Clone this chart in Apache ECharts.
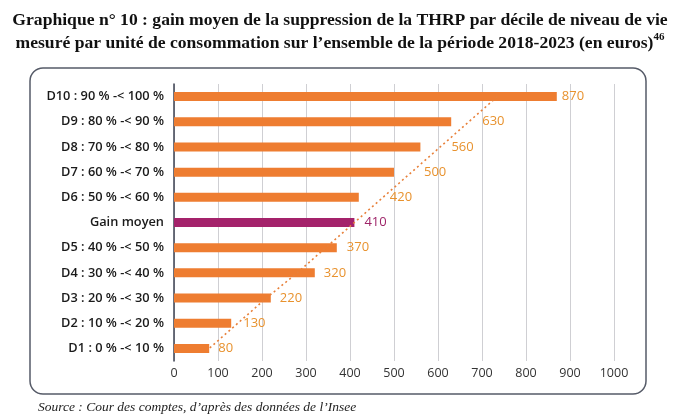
<!DOCTYPE html>
<html>
<head>
<meta charset="utf-8">
<script src="https://cdn.jsdelivr.net/npm/echarts@6/dist/echarts.min.js"></script>
<style>
html,body{margin:0;padding:0;background:#fff;}
#c{width:680px;height:416px;}
</style>
</head>
<body>
<div id="c"></div>
<script>
// Categories, top to bottom
var categories = ['D10 : 90 % -< 100 %','D9 : 80 % -< 90 %','D8 : 70 % -< 80 %','D7 : 60 % -< 70 %','D6 : 50 % -< 60 %','Gain moyen','D5 : 40 % -< 50 %','D4 : 30 % -< 40 %','D3 : 20 % -< 30 %','D2 : 10 % -< 20 %','D1 : 0 % -< 10 %'];
var gains = [870, 630, 560, 500, 420, 410, 370, 320, 220, 130, 80];
// dotted trend line
var trend = [735, 670, 605, 540, 475, 410, 345, 280, 210, 145, 80];
var xTicks = [0, 100, 200, 300, 400, 500, 600, 700, 800, 900, 1000];

// styles (kept apart from data)
var ORANGE = '#EE7D31', PURPLE = '#A4226B';
var LABEL_ORANGE = '#E8922E', LABEL_PURPLE = '#9E2468';
var labelDistance = [5, 31, 31, 30, 31, 10, 10, 9, 9, 12, 9];

var chart = echarts.init(document.getElementById('c'), null, {renderer: 'canvas'});

var barData = gains.map(function (v, i) {
  var isMean = categories[i] === 'Gain moyen';
  return {
    value: v,
    itemStyle: {color: isMean ? PURPLE : ORANGE},
    label: {distance: labelDistance[i], color: isMean ? LABEL_PURPLE : LABEL_ORANGE}
  };
});

chart.setOption({
  animation: false,
  title: {
    left: 'center',
    top: 4,
    text: 'Graphique n° 10 : gain moyen de la suppression de la THRP par décile de niveau de vie\nmesuré par unité de consommation sur l’ensemble de la période 2018-2023 (en euros){sup|46}',
    textStyle: {
      fontFamily: 'Liberation Serif',
      fontWeight: 'bold',
      fontSize: 17.6,
      color: '#111',
      lineHeight: 23,
      rich: {
        sup: {fontFamily: 'Liberation Serif', fontWeight: 'bold', fontSize: 11, color: '#111', verticalAlign: 'top', lineHeight: 14}
      }
    }
  },
  graphic: [
    {
      type: 'rect',
      shape: {x: 30, y: 68, width: 616, height: 326, r: 13},
      style: {fill: 'none', stroke: '#565b68', lineWidth: 1.5},
      z: -1
    },
    {
      type: 'text',
      left: 38,
      top: 400,
      style: {
        text: 'Source : Cour des comptes, d’après des données de l’Insee',
        fontFamily: 'Liberation Serif',
        fontStyle: 'italic',
        fontSize: 13.5,
        fill: '#222'
      }
    }
  ],
  grid: {left: 174, right: 66, top: 84, bottom: 55, containLabel: false},
  xAxis: {
    type: 'value',
    min: xTicks[0],
    max: xTicks[xTicks.length - 1],
    interval: xTicks[1] - xTicks[0],
    axisLine: {show: false},
    axisTick: {show: false},
    axisLabel: {color: '#333', fontFamily: 'Open Sans', fontSize: 12.5, margin: 6, formatter: function (v) { return String(v); }},
    splitLine: {lineStyle: {color: '#cfcfd3', width: 1}}
  },
  yAxis: {
    type: 'category',
    inverse: true,
    data: categories,
    axisLine: {lineStyle: {color: '#3c4252', width: 1.5}},
    axisTick: {show: false},
    axisLabel: {color: '#1a1a1a', fontFamily: 'Open Sans', fontWeight: 600, fontSize: 12.8, margin: 10}
  },
  series: [
    {
      type: 'bar',
      data: barData,
      barWidth: 9,
      label: {
        show: true,
        position: 'right',
        fontFamily: 'Open Sans',
        fontSize: 13,
        color: LABEL_ORANGE
      },
      z: 2
    },
    {
      type: 'line',
      data: trend,
      symbol: 'none',
      silent: true,
      lineStyle: {color: '#E8803A', width: 1.6, type: [2, 3]},
      z: 3
    }
  ]
});
</script>
</body>
</html>
